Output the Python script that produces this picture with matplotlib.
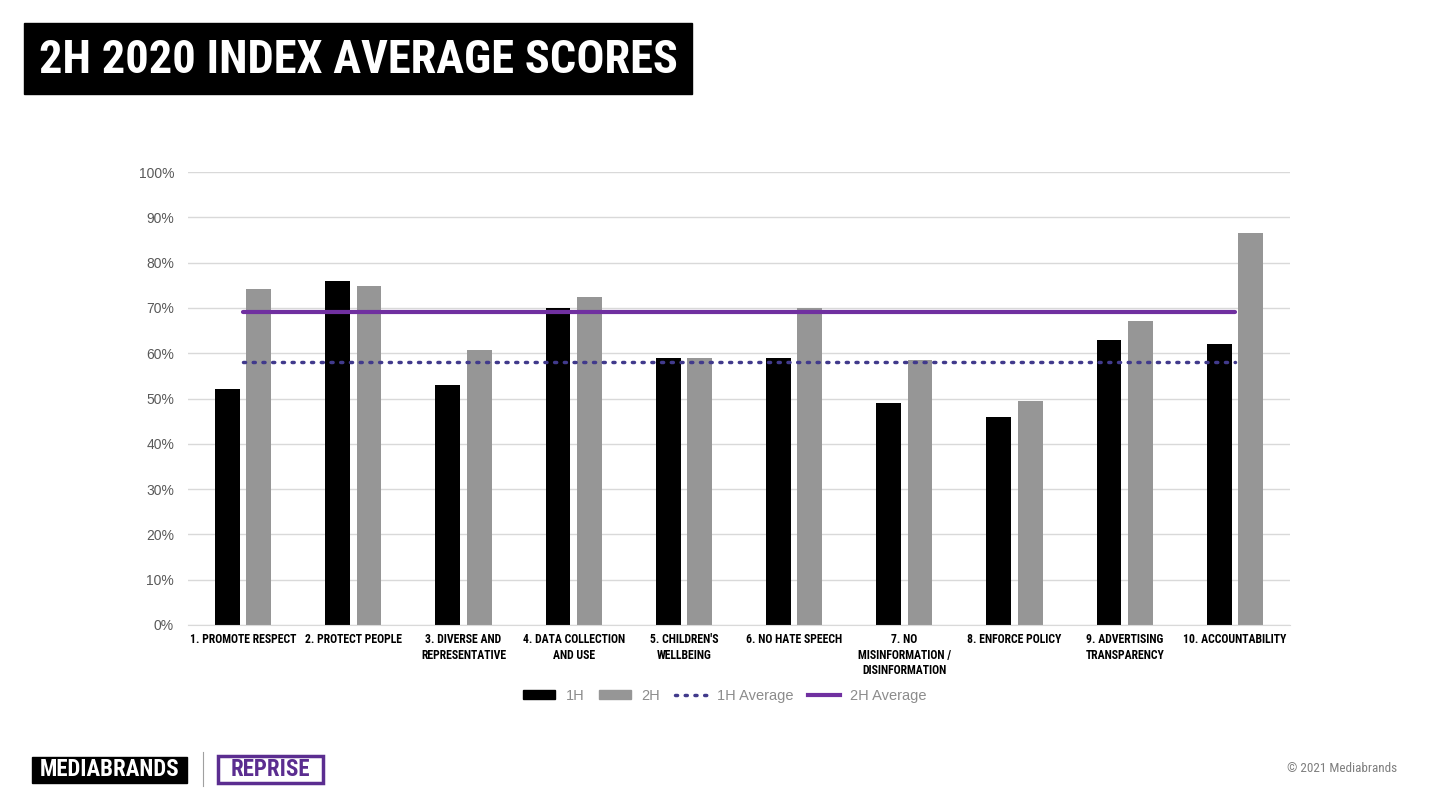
import matplotlib
matplotlib.use("Agg")
import numpy as np
import matplotlib.pyplot as plt
from matplotlib import font_manager
from matplotlib.patches import Rectangle, Patch
from matplotlib.lines import Line2D

CATEGORIES = ["1. PROMOTE RESPECT", "2. PROTECT PEOPLE", "3. DIVERSE AND\nREPRESENTATIVE",
              "4. DATA COLLECTION\nAND USE", "5. CHILDREN'S\nWELLBEING", "6. NO HATE SPEECH",
              "7. NO\nMISINFORMATION /\nDISINFORMATION", "8. ENFORCE POLICY",
              "9. ADVERTISING\nTRANSPARENCY", "10. ACCOUNTABILITY"]
H1 = [52, 76, 53, 70, 59, 59, 49, 46, 63, 62]
H2 = [74.2, 74.9, 60.6, 72.4, 59.0, 70.0, 58.6, 49.4, 67.2, 86.5]
H1_AVG = 58
H2_AVG = 69
Y_TICKS = [0, 10, 20, 30, 40, 50, 60, 70, 80, 90, 100]

installed = {f.name for f in font_manager.fontManager.ttflist}


def pick(*names):
    for n in names:
        if n in installed:
            return n
    return "DejaVu Sans"


NARROW = pick("Liberation Sans Narrow", "Roboto Condensed", "Open Sans Condensed", "Liberation Sans")
PLAIN = pick("Liberation Sans", "Open Sans", "DejaVu Sans")

BLACK = "#000000"
GRAY = "#969696"
PURPLE = "#7030a0"
INDIGO = "#413a8c"
TXT = "#595959"

fig = plt.figure(figsize=(14.4, 8.1), dpi=100)
ax = fig.add_axes([188 / 1440, 1 - 625 / 810, 1102 / 1440, 453 / 810])

x = np.arange(len(CATEGORIES))
w = 0.225
ax.bar(x - 0.142, H1, w, color=BLACK, zorder=2)
ax.bar(x + 0.142, H2, w, color=GRAY, zorder=2)
ax.plot([x[0], x[-1]], [H1_AVG, H1_AVG], color=INDIGO, lw=2.5, ls=(0, (0.6, 2.2)),
        dash_capstyle="round", zorder=3)
ax.plot([x[0], x[-1]], [H2_AVG, H2_AVG], color=PURPLE, lw=3, solid_capstyle="round", zorder=3)

ax.set_xlim(-0.5, len(CATEGORIES) - 0.5)
ax.set_ylim(0, 100)
ax.set_yticks(Y_TICKS)
ax.set_yticklabels([f"{t}%" for t in Y_TICKS], color=TXT, fontsize=10, family=PLAIN)
ax.set_xticks(x)
ax.set_xticklabels(CATEGORIES, fontsize=8.5, fontweight="bold", family=NARROW,
                   linespacing=1.25, va="top")
ax.tick_params(axis="both", length=0)
ax.tick_params(axis="y", pad=10)
ax.tick_params(axis="x", pad=6)
ax.grid(True, axis="y", color="#d9d9d9", lw=1, zorder=0)
for s in ["top", "right", "left"]:
    ax.spines[s].set_visible(False)
ax.spines["bottom"].set_color("#d9d9d9")

handles = [Patch(color=BLACK), Patch(color=GRAY),
           Line2D([], [], color=INDIGO, lw=2.5, ls=(0, (0.6, 2.2)), dash_capstyle="round"),
           Line2D([], [], color=PURPLE, lw=3)]
leg = fig.legend(handles, ["1H", "2H", "1H Average", "2H Average"], loc="center",
                 bbox_to_anchor=(725 / 1440, 1 - 696 / 810), ncol=4, frameon=False,
                 handlelength=2.2, handleheight=0.55, columnspacing=1.0, handletextpad=0.7,
                 prop={"family": PLAIN, "size": 10.5})
for t in leg.get_texts():
    t.set_color("#8c8c8c")

# title block
fig.patches.append(Rectangle((24 / 1440, 1 - 94 / 810), 668 / 1440, 71 / 810,
                             transform=fig.transFigure, color=BLACK, zorder=0))
fig.text(358 / 1440, 1 - 60 / 810, "2H 2020 INDEX AVERAGE SCORES", color="white",
         fontsize=33.5, fontweight="bold", family=NARROW, ha="center", va="center")

# footer logos
fig.patches.append(Rectangle((32 / 1440, 1 - 783 / 810), 155 / 1440, 26 / 810,
                             transform=fig.transFigure, color=BLACK))
fig.text(109.5 / 1440, 1 - 770 / 810, "MEDIABRANDS", color="white", fontsize=16.5,
         fontweight="bold", family=NARROW, ha="center", va="center")
fig.add_artist(Line2D([203 / 1440, 203 / 1440], [1 - 786 / 810, 1 - 752 / 810],
                      color="#a0a0a0", lw=0.8, transform=fig.transFigure))
fig.patches.append(Rectangle((218 / 1440, 1 - 783 / 810), 105 / 1440, 27 / 810,
                             transform=fig.transFigure, facecolor="white",
                             edgecolor="#5b2d90", lw=2.5))
fig.text(270.5 / 1440, 1 - 770 / 810, "REPRISE", color="#5b2d90", fontsize=16.5,
         fontweight="bold", family=NARROW, ha="center", va="center")
fig.text(1397 / 1440, 1 - 768 / 810, "© 2021 Mediabrands", color="#7f7f7f", fontsize=9.5,
         family=NARROW, ha="right", va="center")

fig.savefig("out.png", dpi=100)
